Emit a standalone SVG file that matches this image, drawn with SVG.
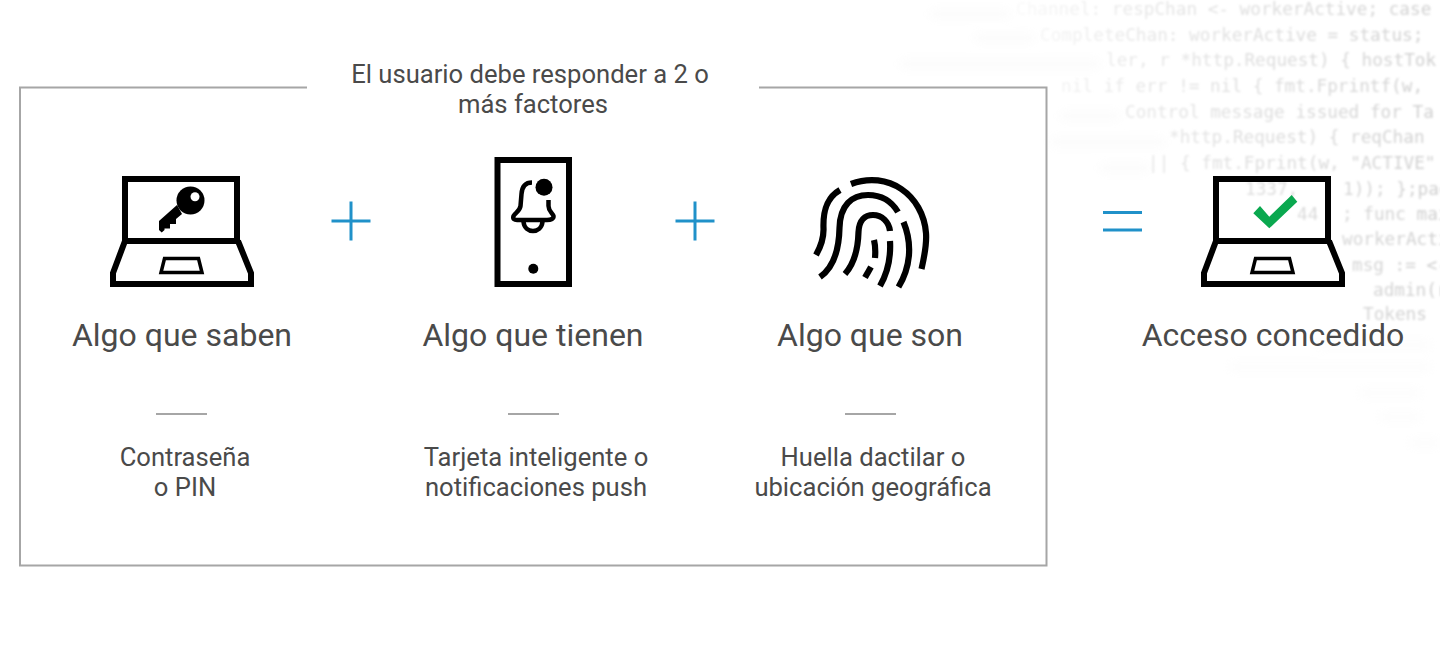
<svg xmlns="http://www.w3.org/2000/svg" width="1440" height="645" viewBox="0 0 1440 645">
<style>
.t{font-family:Roboto,"Liberation Sans",sans-serif;fill:#4a4a4a;text-anchor:middle}
.h{font-size:32px}
.s{font-size:25.6px}
.c{font-family:"DejaVu Sans Mono","Liberation Mono",monospace;font-size:17.7px;fill:url(#fade)}
.k{fill:none;stroke:#000}
.op{stroke:#2091c9;stroke-width:3;fill:none}
.d{stroke:#a6a6a6;stroke-width:2}
.fp{fill:none;stroke:#000;stroke-width:6.2}
</style>
<defs>
<linearGradient id="fade" gradientUnits="userSpaceOnUse" x1="1000" y1="0" x2="1440" y2="0">
<stop offset="0" stop-color="#d8d8d8" stop-opacity="0.1"/>
<stop offset="0.3" stop-color="#d8d8d8" stop-opacity="0.6"/>
<stop offset="1" stop-color="#cfcfcf"/>
</linearGradient>
<filter id="soft"><feGaussianBlur stdDeviation="0.8"/></filter>
<filter id="blur" x="-20%" y="-200%" width="140%" height="500%"><feGaussianBlur stdDeviation="5"/></filter>
<g id="laptop">
<rect class="k" x="125" y="179" width="112" height="62" stroke-width="6"/>
<path class="k" stroke-width="6" d="M125 241L113 273V284H251V273L238 241"/>
<path class="k" stroke-width="3.5" d="M164.500 258.500H198.500L202 272.500H161Z"/>
</g>
</defs>
<rect width="1440" height="645" fill="#fff"/>
<g id="code-haze" filter="url(#blur)" fill="#eeeeee" opacity="0.25">
<rect x="930" y="10" width="80" height="8"/>
<rect x="975" y="34" width="60" height="8"/>
<rect x="900" y="60" width="200" height="8"/>
<rect x="1060" y="112" width="60" height="8"/>
<rect x="1050" y="138" width="115" height="8"/>
<rect x="1100" y="164" width="50" height="8"/>
<rect x="1320" y="342" width="110" height="6"/>
<rect x="1230" y="364" width="200" height="6"/>
<rect x="1360" y="390" width="60" height="6"/>
<rect x="1380" y="414" width="40" height="6"/>
<rect x="1410" y="440" width="30" height="6"/>
</g>
<g id="code-background" filter="url(#soft)">
<text class="c" x="1016" y="15">Channel: respChan &lt;- workerActive; case</text>
<text class="c" x="1040" y="41">CompleteChan: workerActive = status;</text>
<text class="c" x="1106" y="66">ler, r *http.Request) { hostTok</text>
<text class="c" x="1061" y="92">nil  if err != nil { fmt.Fprintf(w,</text>
<text class="c" x="1125" y="118">Control message issued for Ta</text>
<text class="c" x="1169" y="143">*http.Request) { reqChan</text>
<text class="c" x="1148" y="169">|| { fmt.Fprint(w, "ACTIVE"</text>
<text class="c" x="1245" y="195">1337,</text>
<text class="c" x="1343" y="195">1)); };pac</text>
<text class="c" x="1297" y="220">44</text>
<text class="c" x="1342" y="220">; func mai</text>
<text class="c" x="1342" y="245">workerActi</text>
<text class="c" x="1352" y="271">msg := &lt;-</text>
<text class="c" x="1373" y="296">admin(r</text>
<text class="c" x="1363" y="320">Tokens</text>
</g>
<g id="frame">
<path d="M307 87.500H20V565.500H1046.500V87.500H759" fill="none" stroke="#a6a6a6" stroke-width="2"/>
<text class="t s" x="530" y="82.500">El usuario debe responder a 2 o</text>
<text class="t s" x="533" y="113">más factores</text>
</g>
<g id="node-saben">
<use href="#laptop"/>
<circle cx="190.500" cy="200.500" r="14"/>
<path d="M177 205L159 221V230L161.700 232.500L164.500 230V228.500H170V224H176V219L182 214Z"/>
<circle cx="195" cy="196.700" r="4.500" fill="#fff"/>
<text class="t h" x="182" y="345.500">Algo que saben</text>
<line class="d" x1="156" y1="414" x2="207" y2="414"/>
<text class="t s" x="185" y="465.500">Contraseña</text>
<text class="t s" x="185" y="496">o PIN</text>
</g>
<g id="node-tienen">
<rect class="k" x="497.500" y="160" width="71.500" height="124" stroke-width="6"/>
<circle cx="544" cy="187.300" r="8.500"/>
<circle cx="533.300" cy="268.700" r="5"/>
<path class="k" stroke-width="4.500" d="M532 182.500C525 182.500 522 187 521.500 194L520.500 206C520 211 515 213 513.500 216C512.500 219 514.500 220 517 220H547C551 220 554 218.500 553.500 216C552.500 213 548.500 211 548.500 206V200M523.500 222C525 234 541 234 542.500 222"/>
<text class="t h" x="533" y="345.500">Algo que tienen</text>
<line class="d" x1="508" y1="414" x2="559" y2="414"/>
<text class="t s" x="536" y="465.500">Tarjeta inteligente o</text>
<text class="t s" x="536" y="496">notificaciones push</text>
</g>
<g id="node-son">
<path class="fp" d="M851 184C888 170 923 195 926 233C927 245 924 258 921.500 269"/>
<path class="fp" d="M840 190C826 198 823 212 823.500 228C824 240 820 248 816 255"/>
<path class="fp" d="M820 277C833 268 839 250 839.500 228C840 205 852 195 868 195C882 195 892 202 898 212"/>
<path class="fp" d="M845 274C853 265 858 250 858.500 232C859 220 865 215 873 215C882 215 889 222 890 231"/>
<path class="fp" d="M903.500 222C913 245 910 268 898.500 287"/>
<path class="fp" d="M890 241C891 258 888 272 880 286"/>
<path class="fp" d="M874 240C875.500 246 875.500 252 875 258"/>
<path class="fp" d="M871 267L865 277.500"/>
<text class="t h" x="870" y="345.500">Algo que son</text>
<line class="d" x1="845" y1="414" x2="896" y2="414"/>
<text class="t s" x="873" y="465.500">Huella dactilar o</text>
<text class="t s" x="873" y="496">ubicación geográfica</text>
</g>
<g id="node-acceso">
<use href="#laptop" x="1091"/>
<path d="M1253.300 213.300L1269.300 228.300L1297.300 201.700L1291.700 195L1269.300 216.700L1260 206Z" fill="#0aa84f"/>
<text class="t h" x="1273" y="345.500">Acceso concedido</text>
</g>
<g id="connectors">
<path class="op" d="M331.500 221H370.500M351 201.500V240.500"/>
<path class="op" d="M675.500 221H714.500M695 201.500V240.500"/>
<path class="op" d="M1103 212.500H1142M1103 230H1142"/>
</g>
</svg>
